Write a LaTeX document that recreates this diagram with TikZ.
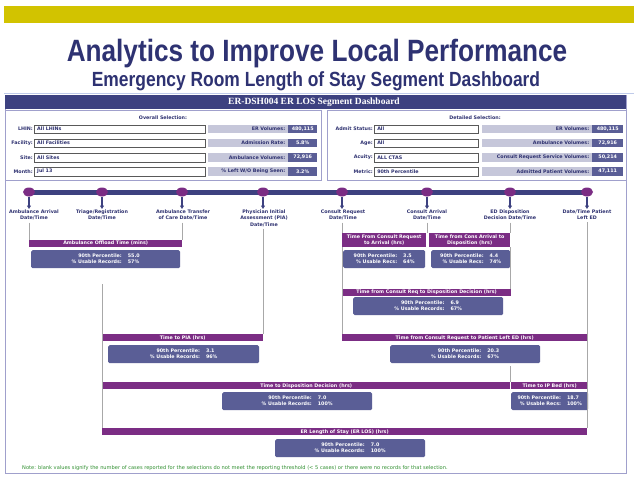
\documentclass[tikz,border=0pt]{standalone}
\usepackage{fontspec}
\setmainfont{DejaVu Sans}
\newfontfamily\titlefont[FakeStretch=0.85]{Liberation Sans}
\newfontfamily\hdrfont{Liberation Serif}
\usetikzlibrary{arrows.meta,shapes.geometric}
\definecolor{navy}{HTML}{2E3272}
\definecolor{hdrblue}{HTML}{3D4180}
\definecolor{purp}{HTML}{7B2D84}
\definecolor{boxblue}{HTML}{5A5E96}
\definecolor{greybar}{HTML}{C6C7DA}
\definecolor{ylw}{HTML}{D2C300}
\definecolor{framec}{HTML}{A0A0CC}
\definecolor{vgrey}{HTML}{A8A8A8}
\definecolor{notegreen}{HTML}{2F8F2F}
\definecolor{lblnavy}{HTML}{2E3170}
\definecolor{rulec}{HTML}{C0CBEA}
\newcommand\statpair[4]{{\renewcommand\arraystretch{1}\begin{tabular}{@{}r@{\hspace{6pt}}l@{}}#1&#2\\#3&#4\end{tabular}}}
\tikzset{
  smallfont/.style={font=\bfseries\fontsize{4.8}{6.1}\selectfont},
  pbar/.style={smallfont, fill=purp, text=white, inner sep=0, anchor=north west, align=center},
  sbox/.style={smallfont, fill=boxblue, rounded corners=1.5pt, text=white, anchor=north west, inner sep=0, align=center, minimum height=18pt},
  dot/.style={ellipse, fill=purp, minimum width=12pt, minimum height=9pt, inner sep=0},
  evlbl/.style={smallfont, anchor=north, align=center, text=lblnavy, inner sep=0},
  vline/.style={draw=vgrey, line width=0.8pt},
  darr/.style={-{Triangle[length=3.5pt,width=4pt]}, draw=hdrblue, line width=1.1pt},
  sellbl/.style={smallfont, text=lblnavy, inner sep=0},
  inbox/.style={smallfont, draw=black!65, line width=0.5pt, fill=white, text=lblnavy, inner xsep=3pt, inner ysep=0, minimum height=8.5pt, align=left},
  gbar/.style={smallfont, fill=greybar, text=lblnavy, inner xsep=3pt, inner ysep=0, minimum height=8.5pt, align=right},
  vbox/.style={smallfont, fill=boxblue, text=white, inner sep=0, minimum height=8.5pt},
  panel/.style={draw=framec, line width=0.6pt}
}
\newcommand\ovrow[6]{%
  \node[sellbl, anchor=east] (#1L) at (33,#2) {#3};
  \node[inbox, anchor=west, text width=165pt] (#1I) at (34,#2) {#4};
  \node[gbar, anchor=west, text width=74pt] (#1G) at (208,#2) {#5};
  \node[vbox, anchor=west, minimum width=29pt] (#1V) at (288,#2) {#6};}
\newcommand\dtrow[6]{%
  \node[sellbl, anchor=east] (#1L) at (373,#2) {#3};
  \node[inbox, anchor=west, text width=98pt] (#1I) at (374,#2) {#4};
  \node[gbar, anchor=west, text width=104pt] (#1G) at (482,#2) {#5};
  \node[vbox, anchor=west, minimum width=31pt] (#1V) at (592,#2) {#6};}
\begin{document}
\begin{tikzpicture}[x=1pt,y=-1pt]
\useasboundingbox[fill=white] (0,0) rectangle (638,479);
% top band and titles
\fill[ylw] (4,6) rectangle (634,23);
\node[anchor=base, text=navy, font=\titlefont\bfseries\fontsize{30.8}{34}\selectfont, inner sep=0] (title) at (317,61) {Analytics to Improve Local Performance};
\node[anchor=base, text=navy, font=\titlefont\bfseries\fontsize{20.5}{24}\selectfont, inner sep=0] (subtitle) at (316,86) {Emergency Room Length of Stay Segment Dashboard};
\draw[rulec, line width=0.8pt] (4,93) -- (634,93);
% dashboard frame
\draw[framec, line width=0.9pt] (5,95) rectangle (626,473);
\fill[hdrblue] (5,95) rectangle (626,109);
\node[text=white, font=\hdrfont\bfseries\fontsize{9.5}{11}\selectfont, inner sep=0] (hdr) at (314,102.5) {ER-DSH004 ER LOS Segment Dashboard};
% selection panels
\draw[panel] (5,110) rectangle (321,180);
\draw[panel] (327,110) rectangle (626,180);
\node[sellbl] (ovh) at (163,118) {Overall Selection:};
\node[sellbl] (dth) at (475,118) {Detailed Selection:};
\ovrow{lhin}{129}{LHIN:}{All LHINs}{ER Volumes:}{480,115}
\ovrow{fac}{143}{Facility:}{All Facilities}{Admission Rate:}{5.8\%}
\ovrow{site}{157.5}{Site:}{All Sites}{Ambulance Volumes:}{72,916}
\ovrow{mon}{171.5}{Month:}{Jul 13}{\% Left W/O Being Seen:}{3.2\%}
\dtrow{adm}{129}{Admit Status:}{All}{ER Volumes:}{480,115}
\dtrow{age}{143}{Age:}{All}{Ambulance Volumes:}{72,916}
\dtrow{acu}{157.5}{Acuity:}{ALL CTAS}{Consult Request Service Volumes:}{50,214}
\dtrow{met}{171.5}{Metric:}{90th Percentile}{Admitted Patient Volumes:}{47,111}
% timeline events
\coordinate (e1) at (29,192);
\coordinate (e2) at (102,192);
\coordinate (e3) at (182,192);
\coordinate (e4) at (263,192);
\coordinate (e5) at (342,192);
\coordinate (e6) at (427,192);
\coordinate (e7) at (510,192);
\coordinate (e8) at (587,192);
\fill[hdrblue] ([yshift=2.5pt]e1) rectangle ([yshift=-2.5pt]e8);
\foreach \e in {e1,e2,e3,e4,e5,e6,e7,e8} {\node[dot] (d\e) at (\e) {};}
\node[evlbl] (l1) at (34,210) {Ambulance Arrival\\Date/Time};
\node[evlbl] (l2) at (102,210) {Triage/Registration\\Date/Time};
\node[evlbl] (l3) at (183,210) {Ambulance Transfer\\of Care Date/Time};
\node[evlbl] (l4) at (264,210) {Physician Initial\\Assessment (PIA)\\Date/Time};
\node[evlbl] (l5) at (343,210) {Consult Request\\Date/Time};
\node[evlbl] (l6) at (427,210) {Consult Arrival\\Date/Time};
\node[evlbl] (l7) at (510,210) {ED Disposition\\Decision Date/Time};
\node[evlbl] (l8) at (587,210) {Date/Time Patient\\Left ED};
% arrows
\foreach \e/\l in {e1/l1,e2/l2,e3/l3,e4/l4,e5/l5,e6/l6,e7/l7,e8/l8} {\draw[darr] (d\e.south) -- ([yshift=1pt]\e |- \l.north);}
% segment bars and stat boxes
\node[pbar, minimum width=153pt, minimum height=6.5pt] (ofb) at (29,240) {Ambulance Offload Time (mins)};
\node[sbox, minimum width=149pt] (ofs) at (31,250) {\statpair{90th Percentile:}{55.0}{\% Usable Records:}{57\%}};
\node[pbar, minimum width=84pt, minimum height=14pt] (crb) at (342,233) {Time From Consult Request\\to Arrival (hrs)};
\node[sbox, minimum width=82pt] (crs) at (343,250) {\statpair{90th Percentile:}{3.5}{\% Usable Recs:}{64\%}};
\node[pbar, minimum width=81pt, minimum height=14pt] (cab) at (429,233) {Time from Cons Arrival to\\Disposition (hrs)};
\node[sbox, minimum width=79pt] (cas) at (431,250) {\statpair{90th Percentile:}{4.4}{\% Usable Recs:}{74\%}};
\node[pbar, minimum width=169pt, minimum height=6.5pt] (cdb) at (342,289) {Time from Consult Req to Disposition Decision (hrs)};
\node[sbox, minimum width=150pt] (cds) at (353,297) {\statpair{90th Percentile:}{6.9}{\% Usable Records:}{67\%}};
\node[pbar, minimum width=161pt, minimum height=7pt] (pib) at (102,334) {Time to PIA (hrs)};
\node[sbox, minimum width=151pt] (pis) at (108,345) {\statpair{90th Percentile:}{3.1}{\% Usable Records:}{96\%}};
\node[pbar, minimum width=245pt, minimum height=7pt] (clb) at (342,334) {Time from Consult Request to Patient Left ED (hrs)};
\node[sbox, minimum width=150pt] (cls) at (390,345) {\statpair{90th Percentile:}{20.3}{\% Usable Records:}{67\%}};
\node[pbar, minimum width=408pt, minimum height=7pt] (tdb) at (102,382) {Time to Disposition Decision (hrs)};
\node[sbox, minimum width=150pt] (tds) at (222,392) {\statpair{90th Percentile:}{7.0}{\% Usable Records:}{100\%}};
\node[pbar, minimum width=77pt, minimum height=7pt] (ipb) at (511,382) {Time to IP Bed (hrs)};
\node[sbox, minimum width=77pt] (ips) at (511,392) {\statpair{90th Percentile:}{18.7}{\% Usable Recs:}{100\%}};
\node[pbar, minimum width=485pt, minimum height=7pt] (lsb) at (102,428) {ER Length of Stay (ER LOS) (hrs)};
\node[sbox, minimum width=150pt] (lss) at (275,439) {\statpair{90th Percentile:}{7.0}{\% Usable Records:}{100\%}};
% vertical connectors
\coordinate (t2) at (102,284);
\coordinate (t7) at (510,366);
\draw[vline] ([yshift=-2pt]e1 |- l1.south) -- (e1 |- ofb.north);
\draw[vline] ([yshift=-2pt]e3 |- l3.south) -- (e3 |- ofb.north);
\draw[vline] ([yshift=-2pt]e4 |- l4.south) -- (e4 |- pib.north);
\draw[vline] (t2) -- (t2 |- lsb.north);
\draw[vline] ([yshift=-2pt]e5 |- l5.south) -- (e5 |- crb.north);
\draw[vline] (crb.south west) -- (crb.south west |- clb.north);
\draw[vline] ([yshift=-2pt]e6 |- l6.south) -- (e6 |- crb.north);
\draw[vline] ([yshift=-2pt]e7 |- l7.south) -- (e7 |- cab.north);
\draw[vline] (cab.south east) -- (cab.south east |- cdb.north);
\draw[vline] (t7) -- (t7 |- tdb.north);
\draw[vline] ([yshift=-2pt]e8 |- l8.south) -- (e8 |- lsb.north);
% note
\node[anchor=west, text=notegreen, font=\fontsize{5.1}{6}\selectfont, inner sep=0] (note) at (22,468) {Note: blank values signify the number of cases reported for the selections do not meet the reporting threshold (< 5 cases) or there were no records for that selection.};
\end{tikzpicture}
\end{document}
